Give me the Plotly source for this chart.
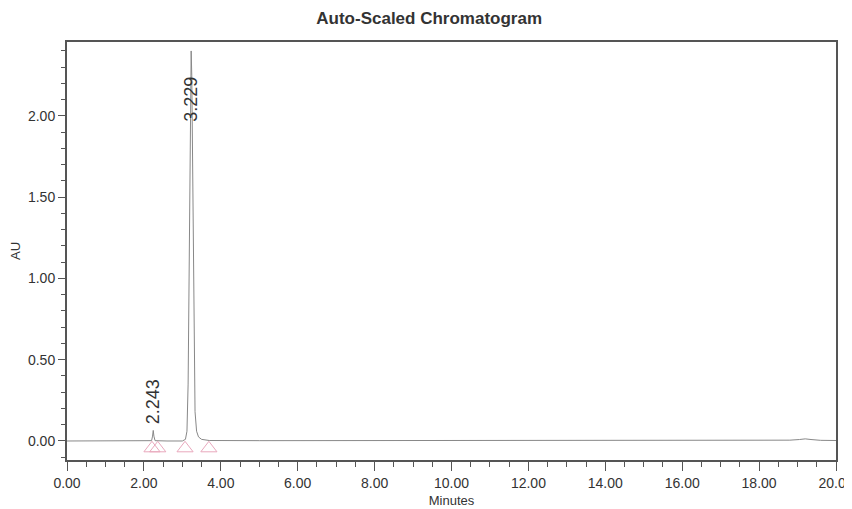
import plotly.graph_objects as go

# Chromatogram trace points (minutes, AU)
times = [0.0, 1.0, 2.0, 2.20, 2.225, 2.243, 2.26, 2.29, 2.6, 3.0, 3.08, 3.12, 3.15, 3.18, 3.20,
         3.215, 3.229, 3.245, 3.26, 3.28, 3.30, 3.33, 3.37, 3.42, 3.50, 3.70, 5.0, 8.0,
         12.0, 16.0, 18.8, 19.05, 19.2, 19.35, 19.6, 20.0]
au = [0.0, 0.0, 0.0, 0.002, 0.03, 0.065, 0.03, 0.002, 0.0, 0.0, 0.01, 0.06, 0.35, 1.20, 1.90,
      2.28, 2.40, 2.25, 1.80, 1.10, 0.55, 0.18, 0.06, 0.025, 0.01, 0.003, 0.002, 0.002,
      0.003, 0.004, 0.005, 0.009, 0.013, 0.009, 0.004, 0.003]

# Peak labels
peak_times = [2.243, 3.229]
peak_labels = ["2.243", "3.229"]
peak_label_au = [0.24, 2.10]

# Integration markers (triangles)
marker_times = [2.21, 2.36, 3.07, 3.69]
marker_au = [-0.045, -0.045, -0.045, -0.045]

x_ticks = [0, 2, 4, 6, 8, 10, 12, 14, 16, 18, 20]
y_ticks = [0.0, 0.5, 1.0, 1.5, 2.0]

font_family = "Arial, Liberation Sans, sans-serif"

fig = go.Figure()
fig.add_trace(go.Scatter(x=times, y=au, mode="lines",
                         line=dict(color="#888888", width=1), hoverinfo="skip"))
fig.add_trace(go.Scatter(x=marker_times, y=marker_au, mode="markers",
                         marker=dict(symbol="triangle-up-open", size=14,
                                     color="#e9a8bd", line=dict(width=1)),
                         hoverinfo="skip"))

for t, lab, ya in zip(peak_times, peak_labels, peak_label_au):
    fig.add_annotation(x=t, y=ya, xref="x", yref="y", text=lab, textangle=-90,
                       showarrow=False, font=dict(size=18, color="#333333", family=font_family),
                       xanchor="center", yanchor="middle")

# the page body adds an 8px offset, so the figure is sized to compensate
fig.update_layout(
    width=844, height=501,
    paper_bgcolor="white", plot_bgcolor="white",
    margin=dict(l=59, r=16, t=34, b=49, autoexpand=False),
    showlegend=False,
    font=dict(family=font_family, color="#333333", size=13),
    title=dict(text="<b>Auto-Scaled Chromatogram</b>", x=0.499, xanchor="center",
               y=0.98, yanchor="middle", font=dict(size=17, color="#333333")),
)
fig.update_xaxes(
    range=[0, 20], tickvals=x_ticks, tickformat=".2f", automargin=False,
    ticklabeloverflow="allow",
    ticks="outside", ticklen=9, tickcolor="#555555", tickwidth=1,
    minor=dict(dtick=0.5, ticks="outside", ticklen=5, tickcolor="#555555"),
    showgrid=False, zeroline=False,
    showline=True, linecolor="#555555", linewidth=2, mirror=True,
    title=dict(text="Minutes", standoff=6, font=dict(size=13)),
    tickfont=dict(size=14),
)
fig.update_yaxes(
    range=[-0.117, 2.455], tickvals=y_ticks, tickformat=".2f", automargin=False,
    ticks="outside", ticklen=7, tickcolor="#555555", tickwidth=1,
    minor=dict(dtick=0.1, ticks="outside", ticklen=4, tickcolor="#555555"),
    showgrid=False, zeroline=False,
    showline=True, linecolor="#555555", linewidth=2, mirror=True,
    title=dict(text="AU", standoff=10, font=dict(size=13)),
    tickfont=dict(size=14),
)

fig.write_html("out.html")
